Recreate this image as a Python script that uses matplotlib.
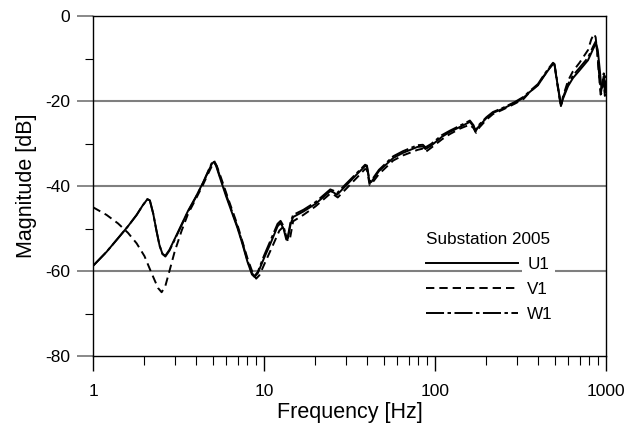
import matplotlib
matplotlib.use("Agg")
import matplotlib.pyplot as plt
from matplotlib.ticker import FixedLocator, NullFormatter, LogLocator

plt.rcParams['font.family'] = ['Liberation Sans', 'DejaVu Sans']
plt.rcParams['lines.scale_dashes'] = False

# ---- data ----
freq_u = [1.0, 1.2, 1.4, 1.6, 1.8, 1.95, 2.08, 2.15, 2.25, 2.35, 2.45, 2.55, 2.65, 2.8, 3.0,
          3.3, 3.6, 4.0, 4.4, 4.7, 4.95, 5.1, 5.25, 5.5, 6.0, 6.5, 7.0, 7.5, 8.0, 8.5, 8.8,
          9.2, 10.0, 11.0, 12.0, 12.5, 13.0, 13.5, 13.8, 14.3, 14.8, 17, 20, 24.4, 25.5, 26.7,
          30, 35, 39, 40, 41.5, 42.5, 47, 57, 65, 79, 85, 88, 95, 110, 122, 140, 150, 160,
          168, 172, 180, 200, 218, 250, 294, 330, 360, 400, 428, 460, 490, 500, 520, 545,
          560, 600, 641, 700, 785, 840, 874, 895, 920, 940, 960, 975, 990, 1000]
mag_u = [-58.8, -55.5, -52.3, -49.5, -46.8, -44.6, -43.1, -43.4, -46.5, -50.5, -54.0, -56.0,
         -56.4, -55.0, -52.5, -49.0, -45.8, -42.5, -39.2, -36.8, -34.8, -34.3, -35.3, -37.8,
         -42.4, -46.3, -49.9, -53.8, -57.8, -60.8, -61.4, -60.5, -57.0, -53.2, -49.5, -48.7,
         -50.0, -52.6, -52.3, -49.0, -47.3, -46.0, -44.2, -41.2, -41.5, -42.1, -40.0, -37.2,
         -35.3, -35.5, -39.3, -39.0, -36.5, -33.4, -32.2, -30.8, -30.7, -31.3, -30.5, -28.4,
         -27.3, -26.1, -25.5, -24.9, -26.0, -27.2, -26.0, -24.0, -22.8, -21.8, -20.4, -19.2,
         -17.8, -16.3, -14.5, -12.7, -11.2, -11.5, -16.0, -21.2, -19.5, -16.5, -14.6, -12.8,
         -10.4, -7.8, -6.4, -8.0, -12.7, -17.0, -16.5, -14.0, -17.5, -15.5]

freq_v = [1.0, 1.2, 1.4, 1.6, 1.8, 2.0, 2.2, 2.4, 2.52, 2.65, 2.8, 3.0, 3.3, 3.6, 4.0, 4.4,
          4.7, 5.0, 5.15, 5.3, 5.6, 6.2, 7.0, 8.0, 8.6, 9.0, 9.4, 10.2, 11.2, 12.3, 12.8, 13.2,
          13.8, 14.2, 14.8, 17, 20, 24.4, 25.5, 27, 30, 35, 39, 40, 41.5, 42.5, 47, 57, 65,
          79, 85, 88, 95, 110, 122, 140, 150, 160, 168, 174, 182, 200, 218, 250, 294, 330,
          360, 400, 428, 460, 490, 500, 520, 545, 560, 600, 641, 700, 785, 820, 850, 870,
          890, 910, 930, 950, 965, 985, 1000]
mag_v = [-45.0, -46.8, -48.8, -51.0, -53.5, -56.5, -60.5, -64.0, -65.0, -63.5, -60.0, -55.5,
         -50.5, -46.5, -43.0, -39.7, -37.2, -35.0, -34.6, -35.3, -38.0, -43.2, -49.2, -57.0,
         -60.5, -61.8, -61.0, -57.8, -54.2, -50.5, -49.8, -50.6, -53.0, -52.3, -48.3, -46.8,
         -44.8, -41.8, -42.0, -42.7, -40.8, -38.0, -36.0, -36.2, -39.8, -39.5, -37.2, -34.0,
         -32.8, -31.5, -31.2, -32.0, -31.0, -29.0, -27.8, -26.5, -26.0, -25.6, -26.4, -27.5,
         -26.2, -24.4, -23.1, -22.0, -20.6, -19.5, -17.8, -16.2, -14.4, -12.6, -11.3, -11.6,
         -16.2, -21.3, -19.0, -15.2, -13.0, -11.0, -8.0, -5.5, -4.2, -5.0, -9.0, -14.0,
         -18.5, -17.8, -14.0, -18.8, -14.5]

freq_w = [1.0, 1.2, 1.4, 1.6, 1.8, 1.95, 2.08, 2.15, 2.25, 2.35, 2.45, 2.55, 2.65, 2.8, 3.0,
          3.3, 3.6, 4.0, 4.4, 4.7, 4.95, 5.1, 5.25, 5.5, 6.0, 6.5, 7.0, 7.5, 8.0, 8.5, 8.8,
          9.2, 10.0, 11.0, 12.0, 12.5, 13.0, 13.5, 13.8, 14.3, 14.8, 17, 20, 24.4, 25.5, 26.7,
          30, 35, 39, 40, 41.5, 42.5, 47, 57, 65, 79, 85, 88, 95, 110, 122, 140, 150, 160,
          168, 172, 180, 200, 218, 250, 294, 330, 360, 400, 428, 460, 490, 500, 520, 545,
          560, 600, 641, 700, 785, 840, 870, 890, 915, 935, 955, 970, 985, 1000]
mag_w = [-58.8, -55.5, -52.3, -49.5, -46.8, -44.6, -43.1, -43.4, -46.5, -50.5, -54.0, -56.0,
         -56.6, -55.2, -52.7, -49.2, -46.0, -42.6, -39.3, -36.6, -34.6, -34.0, -35.0, -37.5,
         -42.0, -46.0, -49.6, -53.5, -57.5, -60.5, -61.2, -60.2, -56.4, -52.5, -48.9, -48.2,
         -49.4, -52.0, -51.8, -48.5, -46.8, -45.6, -43.8, -40.8, -41.1, -41.7, -39.6, -36.9,
         -35.0, -35.2, -39.0, -38.7, -36.2, -33.0, -31.8, -30.4, -30.3, -30.9, -30.1, -28.0,
         -27.0, -25.8, -25.2, -24.6, -25.7, -26.9, -25.7, -23.8, -22.6, -21.6, -20.2, -19.0,
         -17.6, -16.0, -14.2, -12.4, -11.0, -11.3, -15.8, -21.0, -19.2, -16.0, -14.0, -12.2,
         -9.8, -7.2, -6.0, -8.5, -14.5, -18.0, -15.5, -13.5, -18.0, -14.0]

series_labels = ['U1', 'V1', 'W1']
legend_title = 'Substation 2005'
x_ticks = [1, 10, 100, 1000]
x_ticklabels = ['1', '10', '100', '1000']
y_ticks = [0, -20, -40, -60, -80]
y_ticklabels = ['0', '-20', '-40', '-60', '-80']

# ---- figure ----
fig = plt.figure(figsize=(6.31, 4.29), dpi=100)
ax = fig.add_axes([93/631, 1 - 356/429, (606 - 93)/631, (356 - 16)/429])

ax.set_xscale('log')
ax.set_xlim(1, 1000)
ax.set_ylim(-80, 0)

for y in [-20, -40, -60]:
    ax.axhline(y, color='#7f7f7f', lw=1.5, zorder=1)

lw = 1.4
ax.plot(freq_u, mag_u, color='black', lw=lw, ls='-', label=series_labels[0], zorder=3)
ax.plot(freq_v, mag_v, color='black', lw=lw, ls=(0, (6, 3.6)), label=series_labels[1], zorder=3)
ax.plot(freq_w, mag_w, color='black', lw=lw, ls=(0, (13, 2.5, 2.5, 2.5)), label=series_labels[2], zorder=3)

ax.xaxis.set_major_locator(FixedLocator(x_ticks))
ax.set_xticklabels(x_ticklabels)
ax.xaxis.set_minor_locator(LogLocator(base=10, subs=range(2, 10)))
ax.xaxis.set_minor_formatter(NullFormatter())
ax.yaxis.set_major_locator(FixedLocator(y_ticks))
ax.set_yticklabels(y_ticklabels)
ax.yaxis.set_minor_locator(FixedLocator([-10, -30, -50, -70]))

ax.tick_params(axis='x', which='major', direction='out', length=11, width=1.0, pad=9, labelsize=12.5)
ax.tick_params(axis='x', which='minor', direction='out', length=6.5, width=0.8)
ax.tick_params(axis='y', which='major', direction='out', length=11.5, width=1.3, color='#7f7f7f', pad=5, labelsize=12.5)
ax.tick_params(axis='y', which='minor', direction='out', length=6, width=0.8)

for s in ax.spines.values():
    s.set_linewidth(1.0)
    s.set_color('black')

ax.set_xlabel('Frequency [Hz]', fontsize=15.5, labelpad=2)
ax.set_ylabel('Magnitude [dB]', fontsize=15.5, labelpad=6)

leg = ax.legend(loc='upper left', bbox_to_anchor=(0.635, 0.384), frameon=False,
                title=legend_title, title_fontsize=12.3, fontsize=12.3, handlelength=5.4,
                handletextpad=0.55, labelspacing=0.58, alignment='left', borderaxespad=0)
for t in leg.get_texts():
    t.set_bbox(dict(facecolor='white', edgecolor='none', pad=4))

fig.savefig('out.png', dpi=100)
